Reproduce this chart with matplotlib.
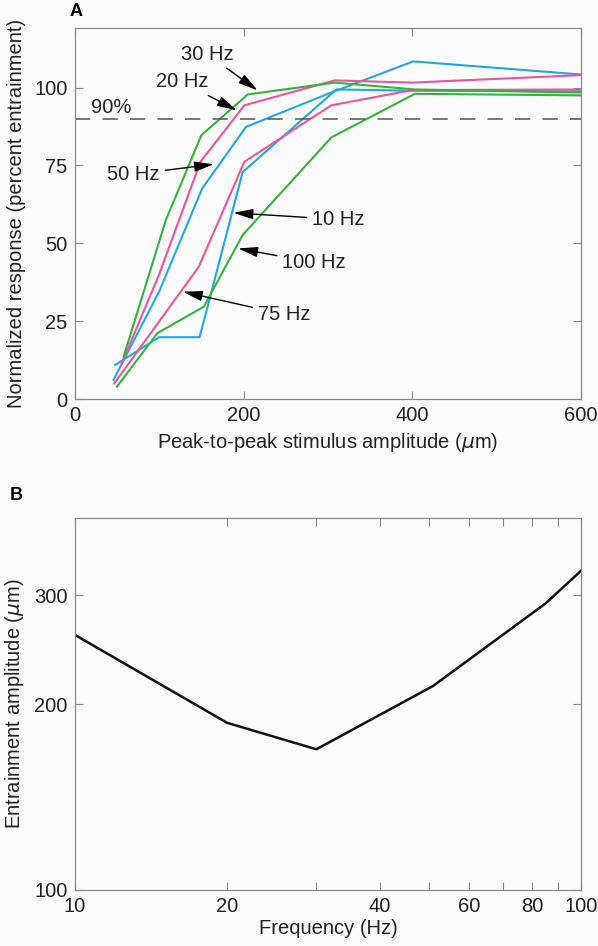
import numpy as np
import matplotlib
matplotlib.use("Agg")
import matplotlib.pyplot as plt
from matplotlib.ticker import FixedLocator, NullLocator, FixedFormatter

plt.rcParams['font.family'] = ['Liberation Sans', 'DejaVu Sans']

# Panel A: normalized response vs peak-to-peak amplitude (um)
amp_10hz = [48, 100, 148, 199, 310, 400, 600]
resp_10hz = [11.0, 19.9, 19.9, 72.9, 99.4, 99.0, 98.8]

amp_20hz = [55, 100, 149, 201, 308, 400, 600]
resp_20hz = [11.0, 40.0, 76.2, 94.3, 102.3, 101.6, 104.0]

amp_30hz = [58, 108, 150, 205, 308, 403, 600]
resp_30hz = [13.7, 57.5, 84.7, 97.8, 101.6, 99.4, 98.4]

amp_50hz = [46, 100, 151, 203, 300, 401, 600]
resp_50hz = [6.2, 34.5, 67.6, 87.4, 98.0, 108.4, 104.2]

amp_75hz = [47, 147, 201, 304, 400, 600]
resp_75hz = [5.1, 42.5, 76.2, 94.3, 99.2, 99.4]

amp_100hz = [50, 98, 153, 199, 304, 403, 600]
resp_100hz = [4.0, 21.2, 29.7, 52.7, 84.0, 98.0, 97.5]

# Panel B: entrainment amplitude vs frequency
freq_hz = [10, 20, 30, 51, 85, 100]
entrain_um = [259, 186.5, 169, 214, 291, 329]

green = '#34b23c'
pink = '#ec5598'
cyan = '#22a8e0'
frame = '#888888'
fs = 14.5

fig = plt.figure(figsize=(5.98, 9.46), dpi=100)
fig.patch.set_facecolor('#fcfbfc')

# ---- panel A ----
axA = fig.add_axes([0.1249, 0.578, 0.847, 0.392])
axA.set_facecolor('#fcfbfc')
axA.plot(amp_10hz, resp_10hz, color=cyan, lw=1.5)
axA.plot(amp_50hz, resp_50hz, color=cyan, lw=1.5)
axA.plot(amp_75hz, resp_75hz, color=pink, lw=1.5)
axA.plot(amp_20hz, resp_20hz, color=pink, lw=1.5)
axA.plot(amp_100hz, resp_100hz, color=green, lw=1.5)
axA.plot(amp_30hz, resp_30hz, color=green, lw=1.5)
axA.axhline(90, color='#555555', lw=1.1, linestyle=(0, (10, 8)))
axA.text(43, 93.5, '90%', fontsize=fs, ha='center', va='center', color='#222222')

axA.set_xlim(0, 600)
axA.set_ylim(0, 119)
axA.set_xticks([0, 200, 400, 600])
axA.set_yticks([0, 25, 50, 75, 100])
axA.set_xlabel(r'Peak-to-peak stimulus amplitude ($\mu$m)', fontsize=fs, labelpad=4)
axA.set_ylabel('Normalized response (percent entrainment)', fontsize=fs, labelpad=6)

arrow = dict(arrowstyle='-|>,head_length=0.85,head_width=0.22', color='black',
             lw=1.0, mutation_scale=14, shrinkA=2, shrinkB=0)
labels = [('30 Hz', (157, 110.7), (216.7, 99.1)),
          ('20 Hz', (127.4, 101.8), (192, 92.7)),
          ('50 Hz', (69.8, 72.2), (165, 75.4)),
          ('10 Hz', (312.5, 57.7), (188, 59.8)),
          ('100 Hz', (283.8, 43.8), (193.6, 48.4)),
          ('75 Hz', (248, 27.2), (128, 34.5))]
for txt, pos, tip in labels:
    axA.annotate(txt, xy=tip, xytext=pos, fontsize=fs, ha='center', va='center',
                 color='#222222', arrowprops=arrow)

# ---- panel B ----
axB = fig.add_axes([0.1249, 0.0592, 0.847, 0.393])
axB.set_facecolor('#fcfbfc')
axB.plot(freq_hz, entrain_um, color='#111111', lw=1.8)
axB.set_xscale('log')
axB.set_yscale('log')
axB.set_xlim(10, 100)
axB.set_ylim(100, 400)
axB.xaxis.set_major_locator(FixedLocator([10, 20, 30, 40, 50, 60, 70, 80, 90, 100]))
axB.xaxis.set_major_formatter(FixedFormatter(['10', '20', '', '40', '', '60', '', '80', '', '100']))
axB.xaxis.set_minor_locator(NullLocator())
axB.yaxis.set_major_locator(FixedLocator([100, 200, 300]))
axB.yaxis.set_major_formatter(FixedFormatter(['100', '200', '300']))
axB.yaxis.set_minor_locator(NullLocator())
axB.set_xlabel('Frequency (Hz)', fontsize=fs, labelpad=2)
axB.set_ylabel(r'Entrainment amplitude ($\mu$m)', fontsize=fs, labelpad=6)

for ax in (axA, axB):
    ax.tick_params(direction='in', top=True, right=True, length=6, width=0.8,
                   color=frame, labelsize=fs, pad=5, labelcolor='#222222')
    for s in ax.spines.values():
        s.set_color(frame)
        s.set_linewidth(0.9)
    ax.xaxis.label.set_color('#222222')
    ax.yaxis.label.set_color('#222222')

fig.text(70 / 598, 1 - 12 / 946, 'A', fontsize=13, fontweight='bold', ha='left', va='center')
fig.text(10 / 598, 1 - 495 / 946, 'B', fontsize=13, fontweight='bold', ha='left', va='center')

fig.savefig('out.png', dpi=100, facecolor=fig.get_facecolor())
